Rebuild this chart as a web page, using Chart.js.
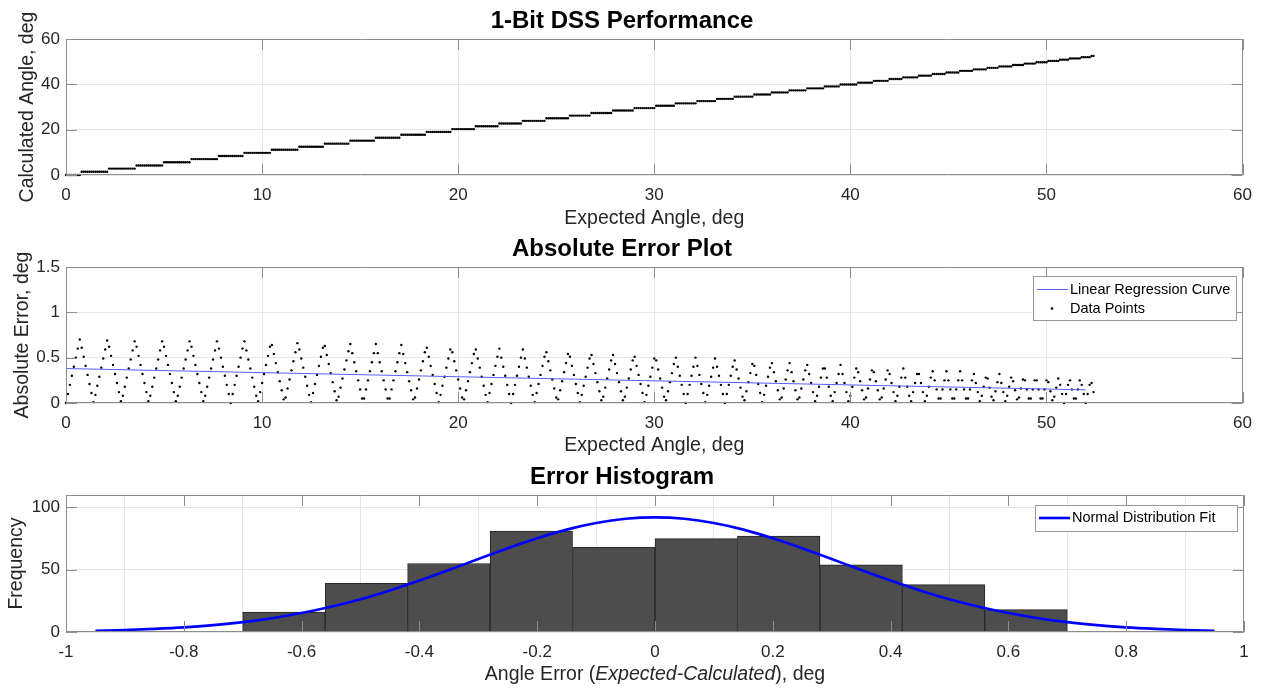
<!DOCTYPE html>
<html>
<head>
<meta charset="utf-8">
<title>1-Bit DSS Performance</title>
<script src="https://cdn.jsdelivr.net/npm/chart.js@4.4.1/dist/chart.umd.min.js"></script>
<style>
  html, body { margin: 0; padding: 0; background: #fff; }
  #page { position: relative; width: 1262px; height: 689px; overflow: hidden; }
  .panel { position: absolute; left: 0; }
</style>
</head>
<body>
<div id="page">
  <canvas class="panel" id="chart-dss" width="1262" height="240" style="top:0"></canvas>
  <canvas class="panel" id="chart-abs" width="1262" height="240" style="top:228px"></canvas>
  <canvas class="panel" id="chart-hist" width="1262" height="233" style="top:456px"></canvas>
</div>
<script>
// sweep sampled every 0.1 deg; sensor output levels and how many samples land on each
const angleStep = 0.1;
const calcLevels = [0, 1.41, 2.82, 4.22, 5.62, 7.02, 8.40, 9.78, 11.14, 12.49, 13.83, 15.15, 16.45, 17.74,
  19.01, 20.26, 21.49, 22.70, 23.89, 25.06, 26.21, 27.33, 28.43, 29.51, 30.57, 31.60, 32.61, 33.60, 34.57,
  35.51, 36.44, 37.34, 38.22, 39.08, 39.92, 40.74, 41.54, 42.32, 43.08, 43.82, 44.55, 45.25, 45.95, 46.62,
  47.27, 47.92, 48.54, 49.15, 49.75, 50.33, 50.90, 51.45, 52.00, 52.52];
const levelCounts = [8, 14, 14, 14, 14, 14, 13, 14, 14, 13, 13, 13, 13, 13, 13, 12, 12, 12, 12, 12, 11, 11,
  11, 11, 10, 11, 10, 9, 10, 9, 9, 9, 9, 8, 9, 8, 8, 7, 8, 7, 7, 7, 7, 7, 6, 7, 6, 6, 6, 6, 5, 6, 5, 2];

// linear regression of the absolute error
const regAngles = [0, 52];
const regErrors = [0.38, 0.145];

// error histogram
const binEdges = [-0.7, -0.56, -0.42, -0.28, -0.14, 0, 0.14, 0.28, 0.42, 0.56, 0.7];
const binCounts = [16, 39, 55, 81, 68, 75, 77, 54, 38, 18];

// normal distribution fit
const fitErrors = [-0.95, -0.9, -0.85, -0.8, -0.75, -0.7, -0.65, -0.6, -0.55, -0.5, -0.45, -0.4, -0.35,
  -0.3, -0.25, -0.2, -0.15, -0.1, -0.05, 0, 0.05, 0.1, 0.15, 0.2, 0.25, 0.3, 0.35, 0.4, 0.45, 0.5, 0.55,
  0.6, 0.65, 0.7, 0.75, 0.8, 0.85, 0.9, 0.95];
const fitFreq = [1.0, 1.6, 2.5, 3.7, 5.5, 7.9, 11.1, 15.2, 20.2, 26.3, 33.4, 41.3, 49.8, 58.6, 67.3, 75.3,
  82.2, 87.5, 90.9, 92.0, 90.9, 87.5, 82.2, 75.3, 67.3, 58.6, 49.8, 41.3, 33.4, 26.3, 20.2, 15.2, 11.1,
  7.9, 5.5, 3.7, 2.5, 1.6, 1.0];

const tickColor = "#262626";
const gridColor = "#e6e6e6";
const boxColor = "#8c8c8c";

Chart.defaults.font.family = "'Liberation Sans', Arial, sans-serif";
Chart.defaults.color = tickColor;
Chart.defaults.animation = false;

// expand the level runs into per-sample points
const expected = [];
const calculated = [];
calcLevels.forEach((level, k) => {
    for (let n = 0; n < levelCounts[k]; n++) {
        expected.push(+(expected.length * angleStep).toFixed(1));
        calculated.push(level);
    }
});

const dssPoints = expected.map((e, i) => ({ x: e, y: calculated[i] }));
const absErrPoints = expected.map((e, i) => ({ x: e, y: Math.abs(e - calculated[i]) }));
const regPoints = regAngles.map((a, i) => ({ x: a, y: regErrors[i] }));
const binPoints = binCounts.map((c, i) => ({ x: (binEdges[i] + binEdges[i + 1]) / 2, y: c }));
const fitPoints = fitErrors.map((e, i) => ({ x: e, y: fitFreq[i] }));

const cleanTick = (v) => String(Number(v.toFixed(2)));

// box round the plot area with inward ticks on all four sides
const axesBox = {
    id: "axesBox",
    afterDatasetsDraw(chart) {
        const { ctx, chartArea: area, scales } = chart;
        const len = 11;
        ctx.save();
        ctx.strokeStyle = boxColor;
        ctx.lineWidth = 1;
        ctx.beginPath();
        scales.x.ticks.forEach((t) => {
            const px = Math.round(scales.x.getPixelForValue(t.value)) + 0.5;
            ctx.moveTo(px, area.bottom);
            ctx.lineTo(px, area.bottom - len);
            ctx.moveTo(px, area.top);
            ctx.lineTo(px, area.top + len);
        });
        scales.y.ticks.forEach((t) => {
            const py = Math.round(scales.y.getPixelForValue(t.value)) + 0.5;
            ctx.moveTo(area.left, py);
            ctx.lineTo(area.left + len, py);
            ctx.moveTo(area.right, py);
            ctx.lineTo(area.right - len, py);
        });
        ctx.rect(Math.round(area.left) + 0.5, Math.round(area.top) + 0.5,
            Math.round(area.width) - 1, Math.round(area.height) - 1);
        ctx.stroke();
        ctx.restore();
    },
};

// legend box drawn inside the plot area
const boxLegend = {
    id: "boxLegend",
    afterDraw(chart, args, opts) {
        if (!opts.rows) return;
        const { ctx } = chart;
        ctx.save();
        ctx.fillStyle = "#fff";
        ctx.fillRect(opts.left, opts.top, opts.width, opts.height);
        ctx.strokeStyle = "#9a9a9a";
        ctx.lineWidth = 1;
        ctx.strokeRect(opts.left + 0.5, opts.top + 0.5, opts.width, opts.height);
        opts.rows.forEach((row) => {
            const ds = chart.data.datasets[row.dataset];
            const y = opts.top + row.y;
            if (row.kind === "line") {
                ctx.strokeStyle = ds.borderColor;
                ctx.lineWidth = ds.borderWidth;
                ctx.beginPath();
                ctx.moveTo(opts.left + 4, y);
                ctx.lineTo(opts.left + 35, y);
                ctx.stroke();
            } else {
                ctx.fillStyle = ds.backgroundColor;
                ctx.beginPath();
                ctx.arc(opts.left + 19, y, 1.3, 0, Math.PI * 2);
                ctx.fill();
            }
            ctx.fillStyle = "#000";
            ctx.font = "14.5px 'Liberation Sans', Arial, sans-serif";
            ctx.textBaseline = "middle";
            ctx.fillText(ds.label, opts.left + 37, y);
        });
        ctx.restore();
    },
};

// x label with an italic middle part
const mixedXTitle = {
    id: "mixedXTitle",
    afterDraw(chart, args, opts) {
        if (!opts.parts) return;
        const { ctx, chartArea: area } = chart;
        ctx.save();
        ctx.fillStyle = tickColor;
        ctx.textBaseline = "middle";
        const fonts = opts.parts.map((p) => (p.italic ? "italic " : "") + "19.5px 'Liberation Sans', Arial, sans-serif");
        let total = 0;
        opts.parts.forEach((p, i) => {
            ctx.font = fonts[i];
            total += ctx.measureText(p.text).width;
        });
        let x = (area.left + area.right) / 2 - total / 2;
        opts.parts.forEach((p, i) => {
            ctx.font = fonts[i];
            ctx.fillText(p.text, x, opts.y);
            x += ctx.measureText(p.text).width;
        });
        ctx.restore();
    },
};

function titleOpts(text) {
    return {
        display: true,
        text: text,
        color: "#000",
        font: { size: 24, weight: "bold", lineHeight: 1.2 },
        padding: { top: 7, bottom: 3.2 },
    };
}

function xScale(min, max, step, label, height, titleBottom) {
    return {
        type: "linear",
        min: min,
        max: max,
        offset: false,
        ticks: { stepSize: step, padding: 10, maxRotation: 0, font: { size: 17 }, callback: cleanTick },
        grid: { color: gridColor, drawTicks: false },
        border: { display: false },
        title: {
            display: !!label,
            text: label,
            color: tickColor,
            font: { size: 19.5, lineHeight: 1.2 },
            padding: { top: 0, bottom: titleBottom },
        },
        afterFit(scale) {
            scale.height = height;
        },
    };
}

function yScale(min, max, step, label, titleLeft) {
    return {
        type: "linear",
        min: min,
        max: max,
        ticks: { stepSize: step, padding: 6, includeBounds: false, font: { size: 17 }, callback: cleanTick },
        grid: { color: gridColor, drawTicks: false },
        border: { display: false },
        title: {
            display: true,
            text: label,
            color: tickColor,
            font: { size: 19.5, lineHeight: 1.2 },
            padding: { top: titleLeft, bottom: 0 },
        },
        afterFit(scale) {
            scale.width = 66;
        },
    };
}

const layout = { padding: { left: 0, right: 18, top: 0, bottom: 0 } };

const configDss = {
    type: "scatter",
    data: {
        datasets: [
            {
                label: "Calculated Angle",
                data: dssPoints,
                backgroundColor: "#000",
                pointRadius: 1.2,
                pointBorderWidth: 0,
                clip: false,
            },
        ],
    },
    options: {
        responsive: false,
        layout: layout,
        plugins: {
            legend: { display: false },
            tooltip: { enabled: false },
            title: titleOpts("1-Bit DSS Performance"),
        },
        scales: {
            x: xScale(0, 60, 10, "Expected Angle, deg", 65, 9.3),
            y: yScale(0, 60, 20, "Calculated Angle, deg", 15.8),
        },
    },
    plugins: [axesBox],
};

const configAbs = {
    type: "scatter",
    data: {
        datasets: [
            {
                label: "Linear Regression Curve",
                data: regPoints,
                showLine: true,
                borderColor: "#5c5cff",
                borderWidth: 1,
                pointRadius: 0,
            },
            {
                label: "Data Points",
                data: absErrPoints,
                backgroundColor: "#000",
                pointRadius: 1.2,
                pointBorderWidth: 0,
                clip: false,
            },
        ],
    },
    options: {
        responsive: false,
        layout: layout,
        plugins: {
            legend: { display: false },
            tooltip: { enabled: false },
            title: titleOpts("Absolute Error Plot"),
            boxLegend: {
                left: 1033,
                top: 48,
                width: 203,
                height: 44,
                rows: [
                    { dataset: 0, kind: "line", y: 13.5 },
                    { dataset: 1, kind: "dot", y: 32.5 },
                ],
            },
        },
        scales: {
            x: xScale(0, 60, 10, "Expected Angle, deg", 65, 10.3),
            y: yScale(0, 1.5, 0.5, "Absolute Error, deg", 10.8),
        },
    },
    plugins: [axesBox, boxLegend],
};

const configHist = {
    data: {
        datasets: [
            {
                type: "line",
                label: "Normal Distribution Fit",
                data: fitPoints,
                borderColor: "#0000ff",
                borderWidth: 2.6,
                pointRadius: 0,
                cubicInterpolationMode: "monotone",
                order: 0,
            },
            {
                type: "bar",
                label: "Error Histogram",
                data: binPoints,
                backgroundColor: "#4d4d4d",
                borderColor: "#262626",
                borderWidth: 1,
                borderSkipped: false,
                barPercentage: 1,
                categoryPercentage: 1,
                order: 1,
            },
        ],
    },
    options: {
        responsive: false,
        layout: layout,
        plugins: {
            legend: { display: false },
            tooltip: { enabled: false },
            title: titleOpts("Error Histogram"),
            boxLegend: {
                left: 1035,
                top: 49,
                width: 202,
                height: 26,
                rows: [{ dataset: 0, kind: "line", y: 13 }],
            },
            mixedXTitle: {
                y: 219,
                parts: [
                    { text: "Angle Error (" },
                    { text: "Expected-Calculated", italic: true },
                    { text: "), deg" },
                ],
            },
        },
        scales: {
            x: xScale(-1, 1, 0.2, "", 57, 0),
            y: yScale(0, 110, 50, "Frequency", 5),
        },
    },
    plugins: [axesBox, boxLegend, mixedXTitle],
};

new Chart(document.getElementById("chart-dss"), configDss);
new Chart(document.getElementById("chart-abs"), configAbs);
new Chart(document.getElementById("chart-hist"), configHist);
</script>
</body>
</html>
